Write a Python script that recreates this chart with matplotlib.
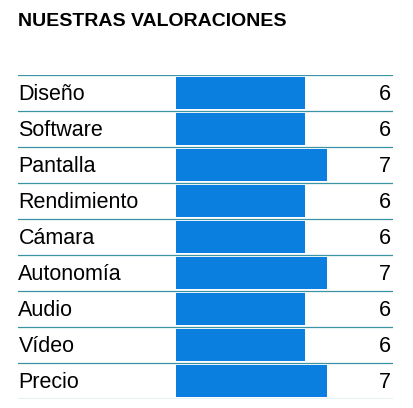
import matplotlib.pyplot as plt

plt.rcParams['font.family'] = ['Liberation Sans', 'DejaVu Sans']

categorias = ['Diseño', 'Software', 'Pantalla', 'Rendimiento', 'Cámara',
              'Autonomía', 'Audio', 'Vídeo', 'Precio']
notas = [6, 6, 7, 6, 6, 7, 6, 6, 7]

W, H = 413, 408
fig = plt.figure(figsize=(W / 100, H / 100), dpi=100)
# axes from x=18px to 393px, y=75px to 399px
ax = fig.add_axes([18 / W, 9 / H, 375 / W, 324 / H])
unit = 21.5
ax.set_xlim(-158 / unit, 217 / unit)
ax.set_ylim(len(categorias), 0)
ax.axis('off')

ys = [i + 0.5 for i in range(len(categorias))]
ax.barh(ys, notas, height=0.9, left=0, color='#0A7FE0')
for i in range(len(categorias) + 1):
    ax.axhline(i, color='#3A94A4', lw=0.9)
for y, c, n in zip(ys, categorias, notas):
    ax.text(-158 / unit + 0.02, y + 0.03, c, fontsize=15.5, va='center', ha='left')
    ax.text(217 / unit - 0.1, y + 0.03, str(n), fontsize=15.5, va='center', ha='right')

fig.text(18 / W, 1 - 22 / H, 'NUESTRAS VALORACIONES', fontsize=14,
         fontweight='bold', va='center', ha='left')

fig.savefig('out.png', dpi=100)
